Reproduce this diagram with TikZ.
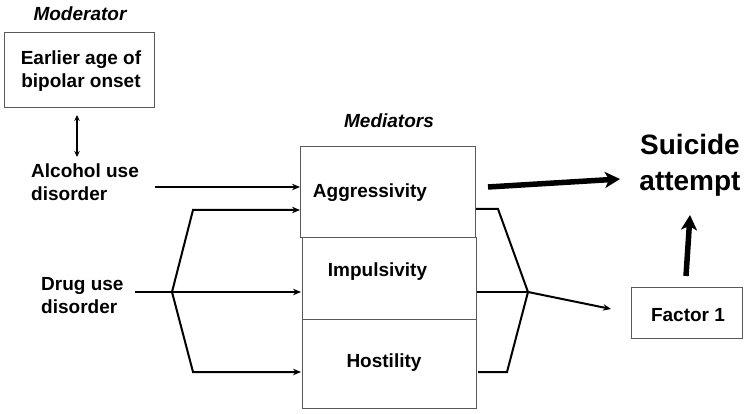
\documentclass[tikz,border=0pt]{standalone}
\usepackage{fontspec}
\setmainfont{Liberation Sans}
\usetikzlibrary{arrows.meta}
\begin{document}
\begin{tikzpicture}[x=1pt,y=-1pt,
  txt/.style={font=\fontsize{19}{23}\selectfont\bfseries, inner sep=0pt, align=center},
  hdr/.style={font=\fontsize{19}{23}\selectfont\bfseries\itshape, inner sep=0pt},
  box/.style={draw=black!65, line width=1pt, inner sep=0pt},
  thin/.style={line width=2pt, line join=miter},
  tarrow/.style={thin, -{Stealth[length=8pt,width=6.5pt]}},
  bigarrow/.style={line width=5.5pt, -{Stealth[length=15pt,width=16pt,inset=4pt]}}
]
\useasboundingbox (0,0) rectangle (753,414);

% moderator
\node[hdr] (modlab) at (80,14) {Moderator};
\node[box, minimum width=150pt, minimum height=75pt] (modbox) at (79,70.5) {};
\node[txt] (modtxt) at (81,71) {Earlier age of\\bipolar onset};

% left texts
\node[txt, align=left, anchor=west] (alc) at (31,182) {Alcohol use\\disorder};
\node[txt, align=left, anchor=west] (drug) at (41,296) {Drug use\\disorder};
\coordinate (da1) at (77,115);
\coordinate (da2) at (77,157);
\draw[line width=1.8pt, {Stealth[length=6pt,width=5.5pt]}-{Stealth[length=6pt,width=5.5pt]}] (da1) -- (da2);

% mediators
\node[hdr] (medlab) at (389,121) {Mediators};
\node[box, minimum width=175pt, minimum height=91pt] (agg) at (387.5,192.5) {};
\node[box, minimum width=174pt, minimum height=82pt] (imp) at (389,279) {};
\node[box, minimum width=174pt, minimum height=88pt] (hos) at (389,364) {};
\node[txt] (aggt) at (370,193) {Aggressivity};
\node[txt] (impt) at (377.5,272) {Impulsivity};
\node[txt] (host) at (384,363) {Hostility};

% outcome
\node[font=\fontsize{28}{36}\selectfont\bfseries, inner sep=0pt, align=center] (sui) at (690,165) {Suicide\\attempt};
\node[box, minimum width=111pt, minimum height=51pt] (fac) at (686.5,313.5) {};
\node[txt] (fact) at (688,315) {Factor 1};

% left connectors
\coordinate (a0) at (155,187);
\coordinate (a1) at (300,187);
\draw[tarrow] (a0) -- (a1);
\coordinate (d0) at (135,292);
\coordinate (J1) at (172,292);
\coordinate (u1) at (193,210);
\coordinate (u2) at (300,210);
\coordinate (m2) at (301,292);
\coordinate (l1) at (193,372);
\coordinate (l2) at (301,372);
\draw[thin] (d0) -- (J1);
\draw[tarrow] (J1) -- (u1) -- (u2);
\draw[tarrow] (J1) -- (m2);
\draw[tarrow] (J1) -- (l1) -- (l2);

% right connectors
\coordinate (J2) at (528,292);
\coordinate (r1) at (476,209);
\coordinate (r1b) at (498,209);
\coordinate (r2) at (477,292);
\coordinate (r3) at (478,372);
\coordinate (r3b) at (507,372);
\coordinate (fin) at (611,309);
\draw[thin] (r1) -- (r1b) -- (J2);
\draw[thin] (r2) -- (J2);
\draw[thin] (r3) -- (r3b) -- (J2);
\draw[tarrow] (J2) -- (fin);

% thick arrows
\coordinate (t0) at (488,187);
\coordinate (t1) at (620,179);
\draw[bigarrow] (t0) -- (t1);
\coordinate (v0) at (686,276);
\coordinate (v1) at (690,215);
\draw[bigarrow] (v0) -- (v1);
\end{tikzpicture}
\end{document}
